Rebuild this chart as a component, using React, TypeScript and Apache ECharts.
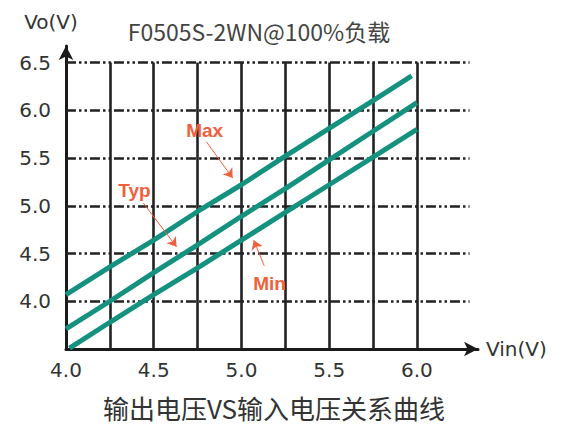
import React, { useEffect, useRef } from "react";
import * as echarts from "echarts";

// Vin (V) -> Vo (V) curves
const maxCurve: [number, number][] = [
  [4.0, 4.07], [4.25, 4.36], [4.5, 4.64], [4.75, 4.94], [5.0, 5.22],
  [5.25, 5.52], [5.5, 5.81], [5.75, 6.1], [5.97, 6.36],
];
const typCurve: [number, number][] = [
  [4.0, 3.71], [4.25, 4.0], [4.5, 4.3], [4.75, 4.59], [5.0, 4.89],
  [5.25, 5.18], [5.5, 5.48], [5.75, 5.78], [6.0, 6.08],
];
const minCurve: [number, number][] = [
  [4.02, 3.51], [4.25, 3.78], [4.5, 4.07], [4.75, 4.35], [5.0, 4.64],
  [5.25, 4.93], [5.5, 5.22], [5.75, 5.51], [6.0, 5.8],
];
const gridXValues = [4.25, 4.5, 4.75, 5.0, 5.25, 5.5, 5.75, 6.0];
const gridYValues = [4.0, 4.5, 5.0, 5.5, 6.0, 6.5];
const seriesNames = ["Max", "Typ", "Min"];
const chartTitle = "F0505S-2WN@100%负载";
const caption = "输出电压VS输入电压关系曲线";
const xName = "Vin(V)";
const yName = "Vo(V)";

const TEAL = "#15917f";
const RED = "#f0603a";
const INK = "#222222";
const FONT = "'Noto Sans CJK SC', 'DejaVu Sans', sans-serif";
const NUMFONT = "'DejaVu Sans', sans-serif";

export default function App() {
  const ref = useRef<HTMLDivElement>(null);

  useEffect(() => {
    if (!ref.current) return;
    const chart = echarts.init(ref.current, undefined, { renderer: "svg" });

    const gridLines: any[] = [];
    gridXValues.forEach((x) => {
      gridLines.push([
        { coord: [x, 3.5], lineStyle: { type: "solid", width: 2.6, color: INK } },
        { coord: [x, 6.5] },
      ]);
    });
    gridYValues.forEach((y) => {
      gridLines.push([
        { coord: [4.0, y], lineStyle: { type: [10, 3, 2.5, 3, 2.5, 3], width: 2.6, color: INK } },
        { coord: [6.3, y] },
      ]);
    });

    const annot = (
      label: string,
      textAt: [number, number],
      from: [number, number],
      to: [number, number]
    ) => ({
      markPoint: {
        z: 12,
        silent: true,
        symbol: "circle",
        symbolSize: 1,
        itemStyle: { color: "rgba(0,0,0,0)" },
        label: {
          show: true,
          position: "inside",
          formatter: label,
          fontSize: 19,
          fontWeight: "bold",
          color: RED,
          fontFamily: "'Liberation Sans', 'DejaVu Sans', sans-serif",
        },
        data: [{ coord: textAt }],
      },
      markLine: {
        z: 12,
        silent: true,
        symbol: ["none", "arrow"],
        symbolSize: 9,
        label: { show: false },
        lineStyle: { color: RED, width: 1, type: "solid" },
        data: [[{ coord: from }, { coord: to }]],
      },
    });

    const curveSeries = (name: string, data: [number, number][], extra: any) => ({
      name,
      type: "line",
      z: 10,
      data,
      showSymbol: false,
      symbol: "none",
      lineStyle: { color: TEAL, width: 5 },
      itemStyle: { color: TEAL },
      ...extra,
    });

    chart.setOption({
      animation: false,
      backgroundColor: "#ffffff",
      textStyle: { fontFamily: FONT },
      grid: { left: 66, right: 93, top: 46, bottom: 78, containLabel: false },
      xAxis: {
        type: "value",
        min: 4.0,
        max: 6.348,
        interval: 0.5,
        name: xName,
        nameLocation: "end",
        nameGap: 8,
        nameTextStyle: { fontSize: 20, color: "#333", fontFamily: NUMFONT, verticalAlign: "middle" },
        axisLine: {
          show: true,
          symbol: ["none", "arrow"],
          symbolSize: [11, 14],
          lineStyle: { color: "#1a1a1a", width: 3 },
        },
        axisTick: { show: false },
        splitLine: { show: false },
        axisLabel: {
          fontSize: 20,
          color: "#333",
          margin: 11,
          showMaxLabel: false,
          fontFamily: NUMFONT,
          formatter: (v: number) => v.toFixed(1),
        },
      },
      yAxis: {
        type: "value",
        min: 3.5,
        max: 6.673,
        interval: 0.5,
        name: yName,
        nameLocation: "end",
        nameGap: 14,
        nameTextStyle: { fontSize: 20, color: "#333", fontFamily: NUMFONT, align: "center", padding: [0, 30, 0, 0] },
        axisLine: {
          show: true,
          symbol: ["none", "arrow"],
          symbolSize: [11, 14],
          lineStyle: { color: "#1a1a1a", width: 3 },
        },
        axisTick: { show: false },
        splitLine: { show: false },
        axisLabel: {
          fontSize: 20,
          color: "#333",
          margin: 15,
          showMinLabel: false,
          showMaxLabel: false,
          fontFamily: NUMFONT,
          formatter: (v: number) => v.toFixed(1),
        },
      },
      graphic: [
        {
          type: "text",
          x: 259,
          y: 31,
          style: {
            text: chartTitle,
            fill: "#444",
            font: `23px ${FONT}`,
            textAlign: "center",
            textVerticalAlign: "middle",
          },
        },
        {
          type: "text",
          x: 274,
          y: 407,
          style: {
            text: caption,
            fill: "#333",
            font: `26px ${FONT}`,
            textAlign: "center",
            textVerticalAlign: "middle",
          },
        },
      ],
      series: [
        {
          type: "line",
          name: "grid",
          z: 1,
          data: [],
          markLine: {
            z: 1,
            silent: true,
            symbol: "none",
            label: { show: false },
            data: gridLines,
          },
        },
        curveSeries(seriesNames[0], maxCurve, annot("Max", [4.79, 5.79], [4.8, 5.67], [4.95, 5.29])),
        curveSeries(seriesNames[1], typCurve, annot("Typ", [4.39, 5.16], [4.44, 5.03], [4.63, 4.57])),
        curveSeries(seriesNames[2], minCurve, annot("Min", [5.16, 4.19], [5.13, 4.37], [5.07, 4.64])),
      ],
    });

    return () => chart.dispose();
  }, []);

  return (
    <div
      ref={ref}
      style={{ position: "fixed", left: 0, top: 0, width: 571, height: 427, background: "#fff" }}
    />
  );
}
